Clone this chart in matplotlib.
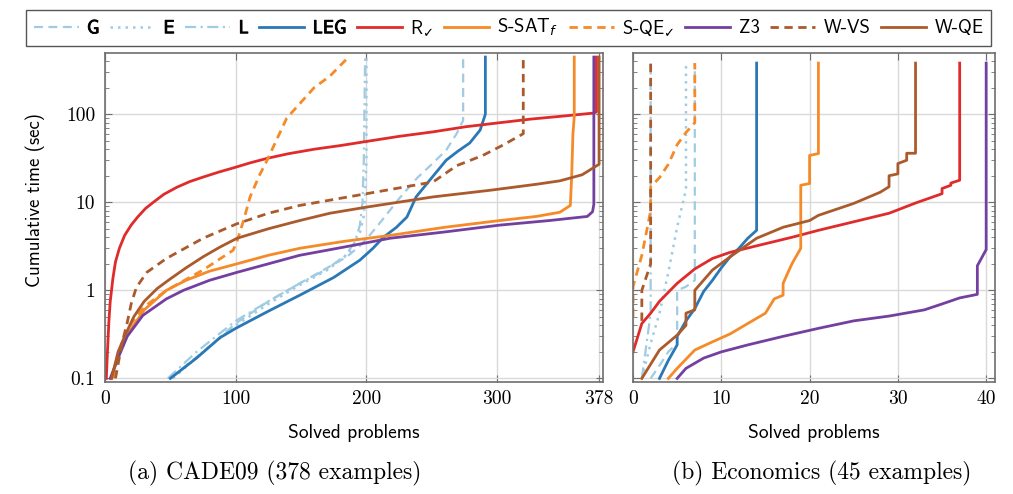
# Cumulative solving time: CADE09 / Economics
import numpy as np
import matplotlib.pyplot as plt
import matplotlib.patheffects as pe
from matplotlib.ticker import FixedLocator, FixedFormatter, LogLocator, NullFormatter

# ---- CADE09 (378 examples): solved problems (n) vs cumulative time in sec (t)
cade_G_n = [50, 75, 100, 125, 149, 170, 185, 195, 203, 211, 225, 239, 250, 261, 269, 274, 274]
cade_G_t = [0.1, 0.2, 0.42, 0.75, 1.2, 1.8, 2.4, 3.2, 4.3, 6.0, 11, 19, 27, 39, 60, 85, 445]
cade_E_n = [52, 75, 100, 125, 149, 170, 182, 190, 195, 198, 199, 200, 200]
cade_E_t = [0.1, 0.2, 0.4, 0.7, 1.15, 1.7, 2.3, 3.0, 4.5, 7, 12, 30, 445]
cade_L_n = [48, 70, 100, 125, 149, 170, 184, 191, 195, 197, 198, 199]
cade_L_t = [0.1, 0.2, 0.45, 0.75, 1.2, 1.75, 2.5, 3.5, 5.5, 10, 30, 445]
cade_LEG_n = [50, 70, 88, 100, 125, 149, 175, 195, 205, 213, 223, 231, 238, 250, 261, 270, 279, 287, 290, 291, 291]
cade_LEG_t = [0.1, 0.17, 0.29, 0.37, 0.58, 0.88, 1.4, 2.2, 3.0, 4.0, 5.2, 6.8, 11.5, 19, 30, 38, 47, 66, 90, 100, 445]
cade_R_n = [1, 1.5, 2, 3, 4, 5, 6, 8, 11, 15, 20, 25, 31, 37, 45, 55, 65, 75, 87, 98, 111, 124,
            140, 160, 180, 198, 225, 251, 276, 302, 326, 350, 374, 376, 376]
cade_R_t = [0.1, 0.15, 0.22, 0.45, 0.75, 1.0, 1.35, 2.1, 3.0, 4.2, 5.5, 6.8, 8.5, 10, 12.3, 14.8, 17.2, 19.3, 22, 24.5, 28, 31.5,
            35.5, 40, 44, 48.5, 56, 63, 72, 80, 88, 95, 103, 106, 445]
cade_SSAT_n = [5, 10, 18, 30, 47, 62, 80, 101, 125, 149, 183, 218, 260, 302, 330, 348, 356, 357, 358, 359, 359]
cade_SSAT_t = [0.1, 0.18, 0.33, 0.6, 1.0, 1.3, 1.65, 2.0, 2.5, 3.0, 3.6, 4.2, 5.2, 6.2, 6.9, 7.7, 9.2, 19, 60, 93, 445]
cade_SQE_n = [6, 12, 20, 30, 47, 75, 98, 101, 104, 106, 111, 118, 124, 139, 160, 172, 186]
cade_SQE_t = [0.1, 0.22, 0.42, 0.65, 1.0, 1.7, 2.85, 3.6, 5, 6.2, 11.5, 20, 30, 90, 200, 270, 440]
cade_Z3_n = [4, 10, 17, 29, 47, 60, 80, 101, 125, 149, 183, 218, 260, 302, 340, 369, 373, 374, 374]
cade_Z3_t = [0.1, 0.17, 0.3, 0.52, 0.8, 1.0, 1.3, 1.6, 2.0, 2.5, 3.1, 3.9, 4.6, 5.5, 6.2, 6.9, 7.8, 9.5, 445]
cade_WVS_n = [8, 13, 17, 20, 24, 32, 47, 75, 101, 125, 149, 200, 251, 269, 289, 305, 320, 320]
cade_WVS_t = [0.1, 0.25, 0.43, 0.7, 1.08, 1.6, 2.3, 3.9, 5.7, 7.5, 9.2, 12.5, 17, 26, 34, 45, 60, 445]
cade_WQE_n = [5, 10, 15, 22, 30, 40, 50, 62, 75, 88, 101, 125, 149, 172, 200, 251, 295, 330, 348, 365, 378, 378]
cade_WQE_t = [0.1, 0.2, 0.3, 0.5, 0.75, 1.05, 1.35, 1.8, 2.4, 3.1, 3.9, 5.0, 6.2, 7.5, 8.8, 11.5, 13.7, 16, 17.5, 20.5, 27, 445]

# ---- Economics (45 examples)
eco_G_n = [2, 3, 4, 5, 5, 6, 7, 7]
eco_G_t = [0.1, 0.14, 0.2, 0.25, 1.0, 1.1, 1.3, 380]
eco_E_n = [1, 2, 3, 4, 5, 6, 6]
eco_E_t = [0.1, 0.25, 0.55, 1.6, 5.2, 14, 380]
eco_L_n = [1, 2, 2]
eco_L_t = [0.1, 0.55, 380]
eco_LEG_n = [3, 4, 5, 5, 6, 7, 8, 9, 10, 11, 12, 13, 14, 14]
eco_LEG_t = [0.1, 0.16, 0.24, 0.3, 0.45, 0.62, 0.97, 1.3, 1.8, 2.4, 3.0, 3.9, 4.8, 380]
eco_R_n = [0, 1, 2, 3, 4, 5, 7, 9, 11, 14, 18, 21, 25, 29, 32, 35, 35, 36, 36, 37, 37]
eco_R_t = [0.2, 0.42, 0.55, 0.75, 0.95, 1.2, 1.75, 2.3, 2.7, 3.2, 4.0, 4.8, 6.0, 7.5, 9.8, 12.5, 14.3, 15.6, 16.5, 17.8, 380]
eco_SSAT_n = [4, 5, 7, 9, 11, 13, 15, 16, 17, 17, 18, 19, 19, 20, 20, 21, 21]
eco_SSAT_t = [0.1, 0.13, 0.21, 0.26, 0.32, 0.42, 0.55, 0.8, 0.88, 1.2, 2.0, 3.0, 15.6, 16.3, 34, 35.7, 380]
eco_SQE_n = [0, 0, 1, 2, 2, 3, 4, 5, 6, 7, 7]
eco_SQE_t = [0.5, 1.1, 2.5, 8, 15, 19, 27, 45, 62, 80, 380]
eco_Z3_n = [5, 6, 8, 10, 13, 17, 21, 25, 29, 33, 35, 37, 39, 39, 40, 40]
eco_Z3_t = [0.1, 0.13, 0.17, 0.2, 0.24, 0.3, 0.37, 0.45, 0.51, 0.6, 0.7, 0.82, 0.9, 1.9, 2.9, 380]
eco_WVS_n = [1, 1, 2, 2]
eco_WVS_t = [0.45, 1.0, 2.0, 380]
eco_WQE_n = [1, 3, 5, 6, 6, 7, 7, 9, 11, 14, 17, 20, 21, 25, 28, 29, 29, 30, 30, 31, 31, 32, 32]
eco_WQE_t = [0.1, 0.21, 0.31, 0.4, 0.55, 0.6, 1.0, 1.7, 2.4, 3.9, 5.2, 6.2, 7.1, 9.7, 13, 15, 20, 21, 27.5, 30, 36, 36, 380]

labels = ["G", "E", "L", "LEG", r"R$_\checkmark$", r"S-SAT$_f$", r"S-QE$_\checkmark$", "Z3", "W-VS", "W-QE"]
bold = [True, True, True, True, False, False, False, False, False, False]

lightblue = "#9fcbe3"
blue = "#2a78b5"
red = "#e02b2b"
orange = "#f58a28"
purple = "#7440a0"
brown = "#ab5a2c"

colors = [lightblue, lightblue, lightblue, blue, red, orange, orange, purple, brown, brown]
dashes = [(4, 2.5), (1, 2), (5, 2, 1, 2), None, None, None, (3, 2), None, (3, 2), None]
widths = [1.6, 1.8, 1.6, 2.0, 2.0, 2.0, 2.0, 2.0, 2.0, 2.0]

cade = [(cade_G_n, cade_G_t), (cade_E_n, cade_E_t), (cade_L_n, cade_L_t), (cade_LEG_n, cade_LEG_t),
        (cade_R_n, cade_R_t), (cade_SSAT_n, cade_SSAT_t), (cade_SQE_n, cade_SQE_t), (cade_Z3_n, cade_Z3_t),
        (cade_WVS_n, cade_WVS_t), (cade_WQE_n, cade_WQE_t)]
eco = [(eco_G_n, eco_G_t), (eco_E_n, eco_E_t), (eco_L_n, eco_L_t), (eco_LEG_n, eco_LEG_t),
       (eco_R_n, eco_R_t), (eco_SSAT_n, eco_SSAT_t), (eco_SQE_n, eco_SQE_t), (eco_Z3_n, eco_Z3_t),
       (eco_WVS_n, eco_WVS_t), (eco_WQE_n, eco_WQE_t)]

W, H = 1013, 494
fig = plt.figure(figsize=(W / 100, H / 100), dpi=100)
ax1 = fig.add_axes([105 / W, 1 - 382 / H, 498 / W, 329 / H])
ax2 = fig.add_axes([633 / W, 1 - 382 / H, 362 / W, 329 / H])

frame = "#6e6e6e"


def draw(ax, series):
    lines = []
    for (n, t), c, d, lw in zip(series, colors, dashes, widths):
        line, = ax.plot(n, t, color=c, lw=lw, solid_joinstyle="round")
        if d is not None:
            line.set_dashes(d)
        lines.append(line)
    ax.set_yscale("log")
    ax.set_ylim(0.091, 495)
    ax.yaxis.set_major_locator(FixedLocator([0.1, 1, 10, 100]))
    ax.yaxis.set_minor_locator(LogLocator(base=10, subs=np.arange(2, 10)))
    ax.yaxis.set_minor_formatter(NullFormatter())
    ax.grid(True, which="major", color="#d9d9d9", lw=1.0)
    ax.set_axisbelow(True)
    ax.tick_params(which="both", direction="in", left=True, right=True, top=True, bottom=True,
                   color=frame)
    ax.tick_params(which="major", length=5)
    ax.tick_params(which="minor", length=3)
    for s in ax.spines.values():
        s.set_color(frame)
        s.set_linewidth(1.2)
    ax.set_xlabel("Solved problems", family="cmss10", size=14, labelpad=11)
    return lines


lines = draw(ax1, cade)
draw(ax2, eco)

ax1.set_xlim(0, 381)
ax1.xaxis.set_major_locator(FixedLocator([0, 100, 200, 300, 378]))
ax1.xaxis.set_major_formatter(FixedFormatter(["0", "100", "200", "300", "378"]))
ax1.yaxis.set_major_formatter(FixedFormatter(["0.1", "1", "10", "100"]))
ax1.set_ylabel("Cumulative time (sec)", family="cmss10", size=13.5)
ax1.yaxis.set_label_coords(-60 / 498, (382 - 200) / 329)

ax2.set_xlim(0, 41)
ax2.xaxis.set_major_locator(FixedLocator([0, 10, 20, 30, 40]))
ax2.xaxis.set_major_formatter(FixedFormatter(["0", "10", "20", "30", "40"]))
ax2.yaxis.set_major_formatter(NullFormatter())

for ax in (ax1, ax2):
    for lab in ax.get_xticklabels() + ax.get_yticklabels():
        lab.set_fontfamily("cmr10")
        lab.set_fontsize(14)
    ax.tick_params(axis="x", pad=6)
    ax.tick_params(axis="y", pad=7)

# legend across the top
leg = fig.legend(lines, labels, loc="lower left", bbox_to_anchor=(26 / W, 1 - 46 / H, 965 / W, 41 / H),
                 mode="expand", ncol=10, fancybox=False, edgecolor="#555555", framealpha=1,
                 handlelength=2.4, handletextpad=0.45, columnspacing=0.5, borderaxespad=0,
                 prop=dict(family="cmss10", size=13.5))
leg.get_frame().set_linewidth(1.0)
for txt, b in zip(leg.get_texts(), bold):
    if b:
        txt.set_path_effects([pe.withStroke(linewidth=0.6, foreground="black")])

# sub-captions
fig.text(275 / W, 1 - 473 / H, "(a) CADE09 (378 examples)", family="cmr10", size=17, ha="center", va="center")
fig.text(822 / W, 1 - 473 / H, "(b) Economics (45 examples)", family="cmr10", size=17, ha="center", va="center")

fig.savefig("out.png", dpi=100)
